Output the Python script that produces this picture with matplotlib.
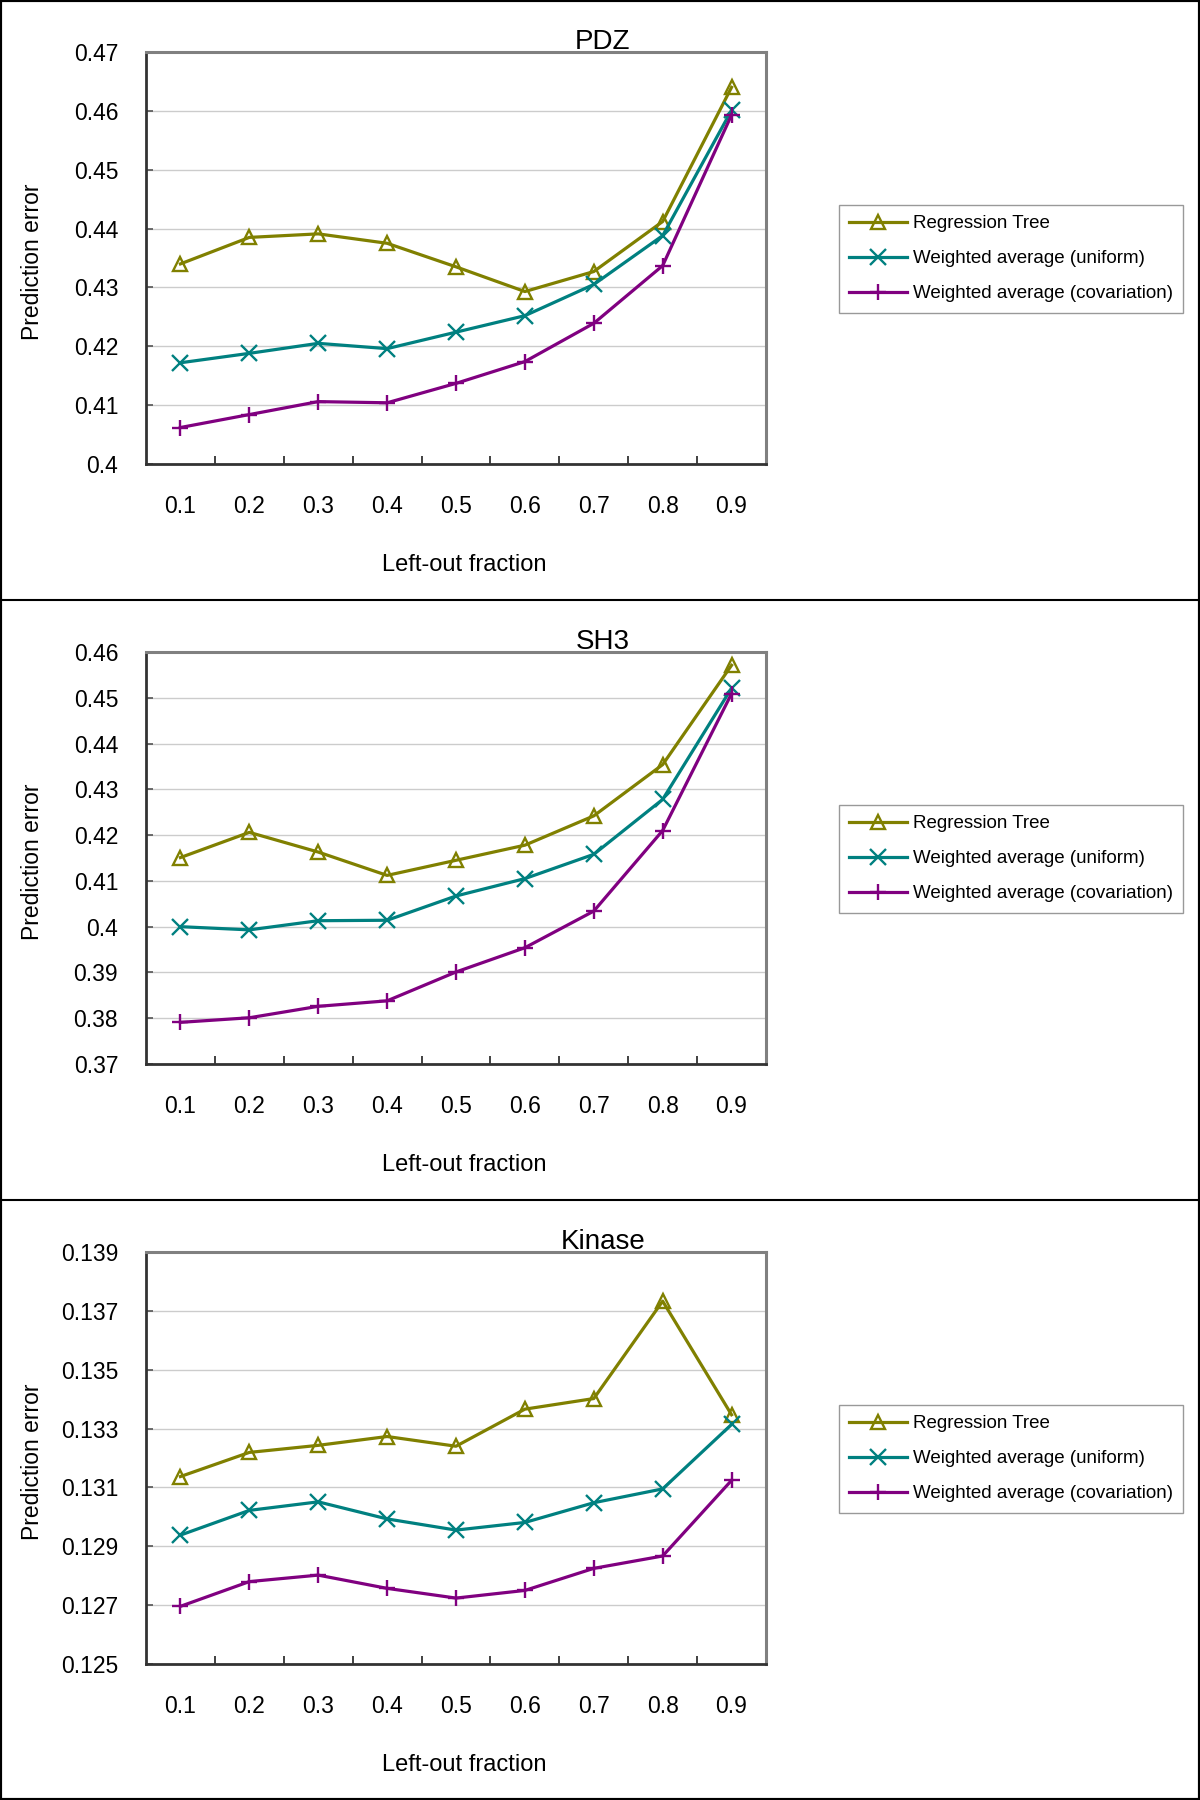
"""Prediction error vs left-out fraction for PDZ, SH3 and Kinase."""

import numpy as np
import matplotlib.pyplot as plt
from matplotlib.lines import Line2D
from matplotlib.patches import Rectangle
from matplotlib.ticker import FormatStrFormatter

fractions = ['0.1', '0.2', '0.3', '0.4', '0.5', '0.6', '0.7', '0.8', '0.9']
series_names = ['Regression Tree', 'Weighted average (uniform)',
                'Weighted average (covariation)']

# PDZ
pdz_tree = [0.4340, 0.4385, 0.4391, 0.4375, 0.4335, 0.4293, 0.4327, 0.4412, 0.4640]
pdz_uniform = [0.4172, 0.4188, 0.4205, 0.4196, 0.4224, 0.4252, 0.4305, 0.4388, 0.4601]
pdz_cov = [0.4062, 0.4084, 0.4106, 0.4104, 0.4137, 0.4174, 0.4239, 0.4337, 0.4593]
pdz_yticks = [0.40, 0.41, 0.42, 0.43, 0.44, 0.45, 0.46, 0.47]

# SH3
sh3_tree = [0.4151, 0.4206, 0.4163, 0.4112, 0.4145, 0.4178, 0.4242, 0.4354, 0.4571]
sh3_uniform = [0.4000, 0.3993, 0.4013, 0.4014, 0.4067, 0.4105, 0.4158, 0.4278, 0.4521]
sh3_cov = [0.3791, 0.3801, 0.3826, 0.3838, 0.3901, 0.3954, 0.4034, 0.4210, 0.4509]
sh3_yticks = [0.37, 0.38, 0.39, 0.40, 0.41, 0.42, 0.43, 0.44, 0.45, 0.46]

# Kinase
kin_tree = [0.13137, 0.13219, 0.13243, 0.13273, 0.13240, 0.13366, 0.13402, 0.13733, 0.13347]
kin_uniform = [0.12938, 0.13022, 0.13051, 0.12993, 0.12955, 0.12981, 0.13048, 0.13095, 0.13314]
kin_cov = [0.12696, 0.12780, 0.12802, 0.12757, 0.12724, 0.12750, 0.12825, 0.12867, 0.13124]
kin_yticks = [0.125, 0.127, 0.129, 0.131, 0.133, 0.135, 0.137, 0.139]

panels = [
    ('PDZ', pdz_tree, pdz_uniform, pdz_cov, pdz_yticks),
    ('SH3', sh3_tree, sh3_uniform, sh3_cov, sh3_yticks),
    ('Kinase', kin_tree, kin_uniform, kin_cov, kin_yticks),
]

colors = ['#808000', '#008080', '#800080']

plt.rcParams['font.family'] = ['Liberation Sans', 'DejaVu Sans']

fig = plt.figure(figsize=(12, 18), dpi=100)

x = np.arange(len(fractions))
for i, (name, tree, uniform, cov, yticks) in enumerate(panels):
    bottom = 1 - 464 / 1800. - i / 3.
    ax = fig.add_axes([146 / 1200., bottom, 620 / 1200., 412 / 1800.])

    ax.plot(x, tree, color=colors[0], lw=2.3, marker='^', ms=9.5,
            mfc='none', mew=1.7, label=series_names[0])
    ax.plot(x, uniform, color=colors[1], lw=2.3, marker='x', ms=11,
            mew=1.7, label=series_names[1])
    ax.plot(x, cov, color=colors[2], lw=2.3, marker='+', ms=11,
            mew=1.7, label=series_names[2])

    ax.set_xlim(-0.5, len(fractions) - 0.5)
    ax.set_xticks(x)
    ax.set_xticklabels(fractions)
    ax.set_xticks(np.arange(0.5, len(fractions) - 1, 1), minor=True)
    ax.tick_params(axis='x', which='major', length=0, pad=22, labelsize=16.5)
    ax.tick_params(axis='x', which='minor', direction='in', length=6,
                   width=1.3, color='#333333')

    ax.set_ylim(yticks[0], yticks[-1])
    ax.set_yticks(yticks)
    ax.yaxis.set_major_formatter(FormatStrFormatter('%g'))
    ax.tick_params(axis='y', direction='in', length=5, width=1.2,
                   color='#555555', pad=20, labelsize=16.5)
    ax.grid(axis='y', color='#cccccc', lw=1)
    ax.set_axisbelow(True)

    for side in ['left', 'bottom']:
        ax.spines[side].set_color('#333333')
        ax.spines[side].set_linewidth(2)
    for side in ['top', 'right']:
        ax.spines[side].set_color('#808080')
        ax.spines[side].set_linewidth(2.2)

    ax.set_ylabel('Prediction error', fontsize=16.5)
    ax.yaxis.set_label_coords(-0.165, 0.49)
    ax.set_xlabel('Left-out fraction', fontsize=17, va='center')
    ax.xaxis.set_label_coords(0.513, -0.244)
    ax.text(0.737, 1.008, name, transform=ax.transAxes, ha='center',
            va='baseline', fontsize=20)

    leg = ax.legend(loc='upper left', bbox_to_anchor=(839 / 1200., 1 - 205 / 1800. - i / 3.),
                    bbox_transform=fig.transFigure, fontsize=13.5, frameon=True,
                    fancybox=False, edgecolor='#808080', handlelength=3.1,
                    handletextpad=0.3, labelspacing=0.95, borderpad=0.55,
                    borderaxespad=0)
    leg.get_frame().set_linewidth(1)

# panel borders
fig.add_artist(Rectangle((0, 0), 1, 1, transform=fig.transFigure, fill=False,
                         lw=3, edgecolor='black'))
for yy in [1 / 3., 2 / 3.]:
    fig.add_artist(Line2D([0, 1], [yy, yy], transform=fig.transFigure,
                          color='black', lw=1.5))

fig.savefig('out.png', dpi=100)
